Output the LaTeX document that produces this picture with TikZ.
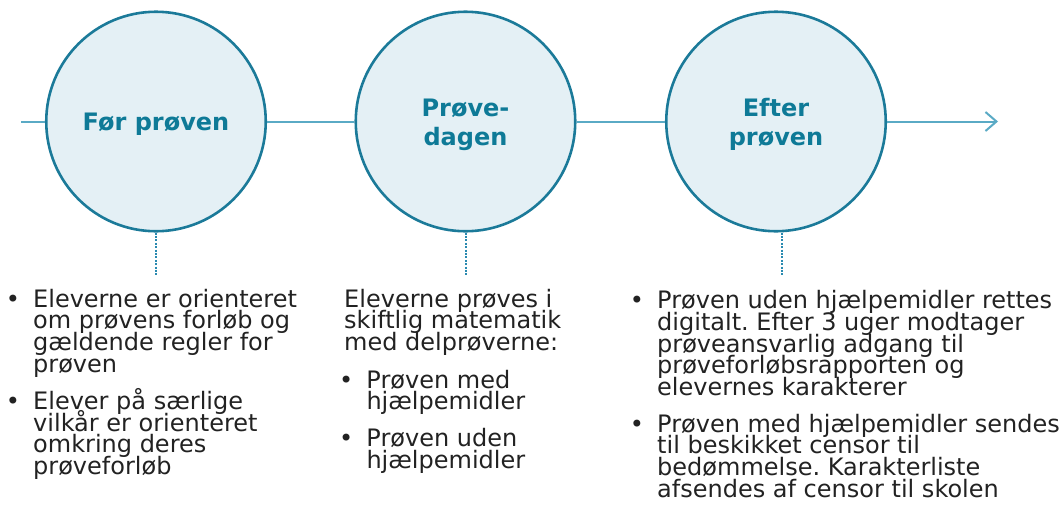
\documentclass[tikz,border=0pt]{standalone}
\usepackage{fontspec}
\setmainfont{DejaVu Sans}
\usetikzlibrary{arrows.meta}
\definecolor{tealdark}{HTML}{1B7A99}
\definecolor{tealtext}{HTML}{0E7A97}
\definecolor{tealline}{HTML}{5AAAC5}
\definecolor{tealdot}{HTML}{2A8AB0}
\definecolor{circfill}{HTML}{E4F0F5}
\definecolor{bodytext}{HTML}{222222}
\frenchspacing
\newcommand{\bodyfont}{\fontsize{24}{21.8}\selectfont\lineskiplimit=-100pt\relax}
\newcommand{\titlefont}{\fontsize{24}{29}\selectfont\bfseries\lineskiplimit=-100pt\relax}
\newcommand{\bitem}[1]{\hangindent=20.3pt\hangafter=1\noindent\makebox[20.3pt][l]{\makebox[0pt]{•}}#1\par}
\begin{document}
\begin{tikzpicture}[x=1pt,y=-1pt,
  phase/.style={circle,draw=tealdark,line width=2.6pt,fill=circfill,minimum size=219.5pt,inner sep=0pt},
  title/.style={anchor=base,inner sep=0pt,text=tealtext},
  body/.style={anchor=base west,inner sep=0pt,text=bodytext},
  timeline/.style={draw=tealline,line width=2pt},
  drop/.style={draw=tealdot,line width=2pt,dash pattern=on 2pt off 1.4pt}]
\useasboundingbox (0,0) rectangle (1061,504);
\node[phase] (c1) at (156,121.5) {};
\node[phase] (c2) at (465.5,121.5) {};
\node[phase] (c3) at (776,121.5) {};
\coordinate (start) at (21,121.5);
\coordinate (end) at (998,121.5);
\draw[timeline] (start) -- (c1);
\draw[timeline] (c1) -- (c2);
\draw[timeline] (c2) -- (c3);
\draw[timeline,-{Straight Barb[length=11pt,width=19pt]}] (c3) -- (end);
\coordinate (d1) at (156,275);
\coordinate (d2) at (465.5,275);
\coordinate (d3) at (782,275);
\draw[drop] (c1.south) -- (d1);
\draw[drop] (c2.south) -- (d2);
\draw[drop] (d3 |- c3.south) -- (d3);
\node[title] (t1) at (156,130) {\titlefont Før prøven};
\node[title] (t2) at (465.5,116.7) {\parbox[t]{160pt}{\centering\titlefont Prøve-\\dagen}};
\node[title] (t3) at (776,116.5) {\parbox[t]{160pt}{\centering\titlefont Efter\\prøven}};
\node[body] (b1) at (12.7,307) {\parbox[t]{400pt}{\bodyfont
\bitem{Eleverne er orienteret\newline om prøvens forløb og\newline gældende regler for\newline prøven}\vspace{15pt}
\bitem{Elever på særlige\newline vilkår er orienteret\newline omkring deres\newline prøveforløb}}};
\node[body] (b2) at (344,307) {\parbox[t]{300pt}{\bodyfont\noindent
Eleverne prøves i\newline skiftlig matematik\newline med delprøverne:}};
\node[body] (b2l) at (346,388) {\parbox[t]{300pt}{\bodyfont
\bitem{Prøven med\newline hjælpemidler}\vspace{15pt}
\bitem{Prøven uden\newline hjælpemidler}}};
\node[body] (b3) at (636.7,308.5) {\parbox[t]{430pt}{\bodyfont
\bitem{Prøven uden hjælpemidler rettes\newline digitalt. Efter 3 uger modtager\newline prøveansvarlig adgang til\newline prøveforløbsrapporten og\newline elevernes karakterer}\vspace{14.5pt}
\bitem{Prøven med hjælpemidler sendes\newline til beskikket censor til\newline bedømmelse. Karakterliste\newline afsendes af censor til skolen}}};
\end{tikzpicture}
\end{document}
